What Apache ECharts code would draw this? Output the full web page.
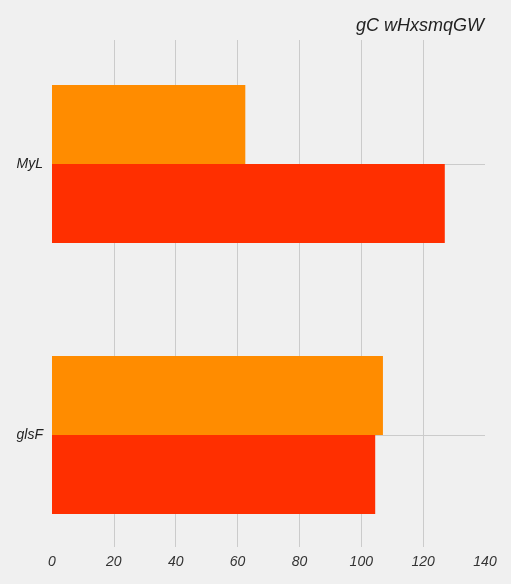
<!DOCTYPE html>
<html>
<head>
<meta charset="utf-8">
<script src="https://cdn.jsdelivr.net/npm/echarts@6/dist/echarts.min.js"></script>
<style>
  html, body { margin: 0; padding: 0; background: #f0f0f0; }
  #chart { width: 511px; height: 584px; }
</style>
</head>
<body>
<div id="chart"></div>
<script>
// y categories, bottom to top
const categories = ["glsF", "MyL"];
const redValues = [104.5, 127];
const orangeValues = [107, 62.5];
const xTicks = { min: 0, max: 140, interval: 20 };

const font = "Liberation Sans";
const gridColor = "#cbcbcb";

const chart = echarts.init(document.getElementById("chart"));

const option = {
  backgroundColor: "#f0f0f0",
  animation: false,
  title: {
    text: "gC wHxsmqGW",
    right: 22,
    top: 12,
    textStyle: {
      fontFamily: font,
      fontStyle: "italic",
      fontWeight: "normal",
      fontSize: 18,
      color: "#222",
    },
  },
  grid: [
    // bars
    { left: 52, right: 26, top: 28.5, height: 542 },
    // vertical gridlines + tick labels
    { left: 52, right: 26, top: 40, bottom: 37 },
  ],
  xAxis: [
    {
      gridIndex: 0,
      type: "value",
      min: xTicks.min,
      max: xTicks.max,
      interval: xTicks.interval,
      axisLine: { show: false },
      axisTick: { show: false },
      axisLabel: { show: false },
      splitLine: { show: false },
    },
    {
      gridIndex: 1,
      type: "value",
      min: xTicks.min,
      max: xTicks.max,
      interval: xTicks.interval,
      axisLine: { show: false },
      axisTick: { show: false },
      axisLabel: {
        margin: 8,
        fontFamily: font,
        fontStyle: "italic",
        fontSize: 14,
        color: "#333",
      },
      splitLine: {
        show: true,
        showMinLine: false,
        showMaxLine: false,
        lineStyle: { color: gridColor, width: 1 },
      },
    },
  ],
  yAxis: [
    {
      gridIndex: 0,
      type: "category",
      data: categories,
      axisLine: { show: false },
      axisTick: { show: false },
      axisLabel: {
        margin: 9,
        fontFamily: font,
        fontStyle: "italic",
        fontSize: 14,
        color: "#222",
      },
      splitLine: { show: false },
    },
    {
      gridIndex: 1,
      type: "value",
      min: 0,
      max: 1,
      show: false,
      splitLine: { show: false },
    },
  ],
  series: [
    {
      // horizontal lines at the category centres
      name: "catLines",
      type: "line",
      xAxisIndex: 0,
      yAxisIndex: 0,
      data: [],
      z: 1,
      markLine: {
        silent: true,
        symbol: "none",
        label: { show: false },
        lineStyle: { color: gridColor, width: 1, type: "solid" },
        data: categories.map((c) => [
          { coord: [xTicks.min, c] },
          { coord: [xTicks.max, c] },
        ]),
      },
    },
    {
      name: "orange",
      type: "bar",
      xAxisIndex: 0,
      yAxisIndex: 0,
      data: orangeValues,
      barWidth: 79,
      barGap: "0%",
      z: 10,
      itemStyle: { color: "#ff8c00" },
    },
    {
      name: "red",
      type: "bar",
      xAxisIndex: 0,
      yAxisIndex: 0,
      data: redValues,
      barWidth: 79,
      barGap: "0%",
      z: 10,
      itemStyle: { color: "#ff2f00" },
    },
  ],
};

chart.setOption(option);
</script>
</body>
</html>
